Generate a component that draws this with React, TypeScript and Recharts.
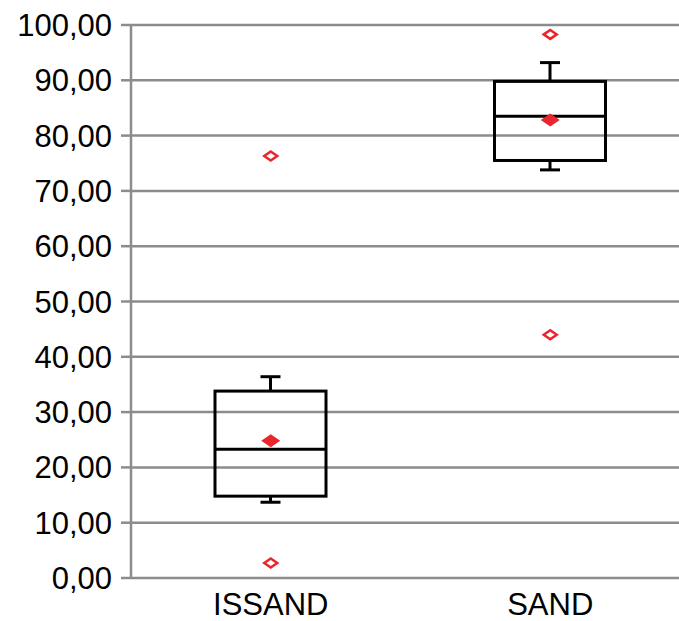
import React from 'react';
import { ComposedChart, Bar, Scatter, XAxis, YAxis, CartesianGrid } from 'recharts';

const categories = ['ISSAND', 'SAND'];
const whiskerLow = [13.7, 73.8];
const q1 = [14.8, 75.5];
const median = [23.3, 83.5];
const q3 = [33.8, 89.8];
const whiskerHigh = [36.4, 93.2];
const means = [24.8, 82.8];
const outliersHigh = [76.3, 98.3];
const outliersLow = [2.7, 44.0];
const yTicks = [0, 10, 20, 30, 40, 50, 60, 70, 80, 90, 100];

const data = categories.map((name, i) => ({
  name,
  min: whiskerLow[i],
  q1: q1[i],
  median: median[i],
  q3: q3[i],
  max: whiskerHigh[i],
  mean: means[i],
  oHigh: outliersHigh[i],
  oLow: outliersLow[i],
}));

const RED = '#e8262b';
const GRID = '#8c8c8c';
const FONT = '"Liberation Sans", Arial, Helvetica, sans-serif';

const BoxShape = (props: any) => {
  const { x, y, width, height, payload } = props;
  const top = Math.min(y, y + height);
  const bottom = Math.max(y, y + height);
  const span = payload.max - payload.min;
  const px = (v: number) => bottom - ((v - payload.min) / span) * (bottom - top);
  const cx = x + width / 2;
  const cap = 10;
  return (
    <g stroke="#000" strokeWidth={3} fill="none">
      <line x1={cx} x2={cx} y1={px(payload.max)} y2={px(payload.q3)} />
      <line x1={cx} x2={cx} y1={px(payload.q1)} y2={px(payload.min)} />
      <line x1={cx - cap} x2={cx + cap} y1={px(payload.max)} y2={px(payload.max)} />
      <line x1={cx - cap} x2={cx + cap} y1={px(payload.min)} y2={px(payload.min)} />
      <rect x={x} y={px(payload.q3)} width={width} height={px(payload.q1) - px(payload.q3)} fill="none" />
      <line x1={x} x2={x + width} y1={px(payload.median)} y2={px(payload.median)} />
    </g>
  );
};

const MeanShape = (props: any) => {
  const { cx, cy } = props;
  if (cx == null || cy == null) return <g />;
  const w = 9.5, h = 6.5;
  return <polygon points={`${cx - w},${cy} ${cx},${cy - h} ${cx + w},${cy} ${cx},${cy + h}`} fill={RED} stroke="none" />;
};

const OutlierShape = (props: any) => {
  const { cx, cy } = props;
  if (cx == null || cy == null) return <g />;
  const w = 6.5, h = 4.5;
  return <polygon points={`${cx - w},${cy} ${cx},${cy - h} ${cx + w},${cy} ${cx},${cy + h}`} fill="#fff" stroke={RED} strokeWidth={2.5} />;
};

const fmt = (v: number) => v.toFixed(2).replace('.', ',');

export default function App() {
  return (
    <div style={{ position: 'absolute', left: 0, top: 0, background: '#fff' }}>
      <ComposedChart width={700} height={621} data={data} margin={{ top: 25, right: 10, bottom: 0, left: 0 }}>
        <CartesianGrid vertical={false} stroke={GRID} strokeWidth={2.5} />
        <XAxis
          xAxisId="bnd"
          type="number"
          domain={[0, 2]}
          ticks={[0, 1, 2]}
          height={0}
          axisLine={{ stroke: GRID, strokeWidth: 2.5 }}
          tickLine={{ stroke: GRID, strokeWidth: 2.5 }}
          tickSize={7}
          tick={() => <g />}
        />
        <XAxis
          xAxisId="cat"
          dataKey="name"
          type="category"
          height={43}
          axisLine={false}
          tickLine={false}
          tickSize={0}
          tickMargin={15}
          tick={{ fill: '#000', fontSize: 31, fontFamily: FONT }}
        />
        <YAxis
          domain={[0, 100]}
          ticks={yTicks}
          width={131}
          tickFormatter={fmt}
          axisLine={{ stroke: GRID, strokeWidth: 2.5 }}
          tickLine={{ stroke: GRID, strokeWidth: 2.5 }}
          tickSize={10}
          tickMargin={9}
          tick={{ fill: '#000', fontSize: 31, fontFamily: FONT }}
          interval={0}
        />
        <Bar xAxisId="cat" dataKey={(d: any) => [d.min, d.max]} barSize={111} shape={BoxShape} isAnimationActive={false} />
        <Scatter xAxisId="cat" dataKey="mean" shape={MeanShape} isAnimationActive={false} />
        <Scatter xAxisId="cat" dataKey="oHigh" shape={OutlierShape} isAnimationActive={false} />
        <Scatter xAxisId="cat" dataKey="oLow" shape={OutlierShape} isAnimationActive={false} />
      </ComposedChart>
    </div>
  );
}
